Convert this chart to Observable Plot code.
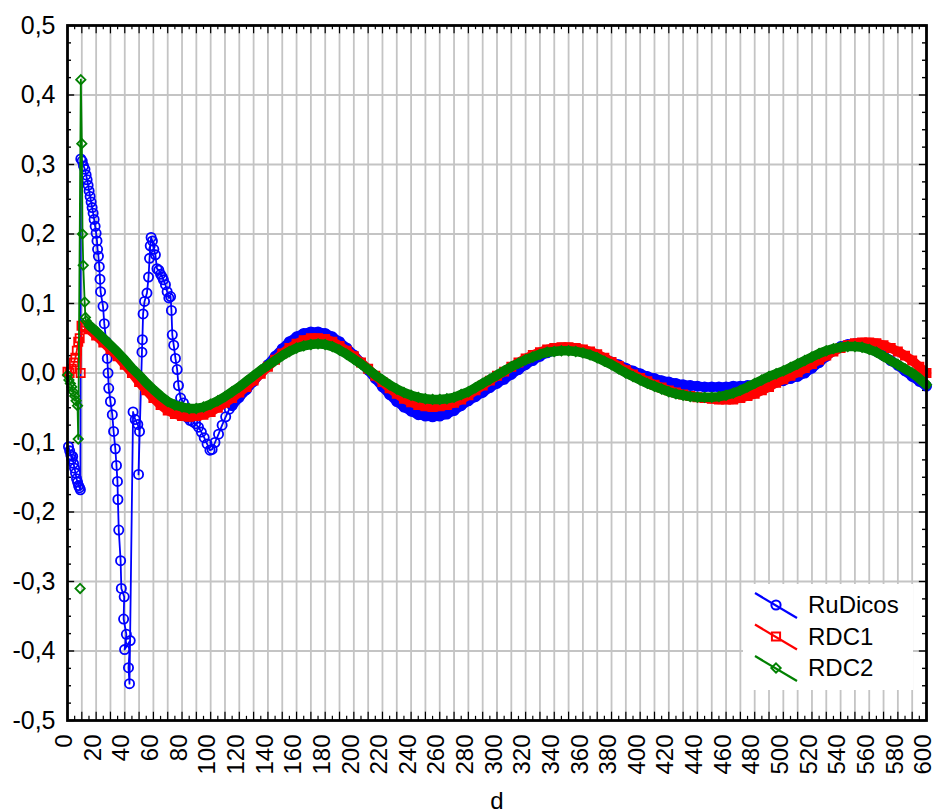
<!DOCTYPE html>
<html><head><meta charset="utf-8">
<script src="https://cdn.jsdelivr.net/npm/d3@7"></script>
<script src="https://cdn.jsdelivr.net/npm/@observablehq/plot@0.6"></script>
<style>body{margin:0;background:#fff}#chart{position:relative;width:936px;height:812px}</style>
</head><body><div id="chart"></div>
<script>
const seriesNames = ["RuDicos", "RDC1", "RDC2"];
const seriesColors = ["#0000ff", "#ff0000", "#008000"];
const xTickLabels = [0,20,40,60,80,100,120,140,160,180,200,220,240,260,280,300,320,340,360,380,400,420,440,460,480,500,520,540,560,580,600];
const yTickLabels = [-0.5,-0.4,-0.3,-0.2,-0.1,0,0.1,0.2,0.3,0.4,0.5];

// d positions of the dense part of the curves
const bandD = [15,20,25,30,35,40,45,50,55,60,
  65,70,75,80,85,90,95,100,105,110,
  115,120,125,130,135,140,145,150,155,160,
  165,170,175,180,185,190,195,200,205,210,
  215,220,225,230,235,240,245,250,255,260,
  265,270,275,280,285,290,295,300,305,310,
  315,320,325,330,335,340,345,350,355,360,
  365,370,375,380,385,390,395,400,405,410,
  415,420,425,430,435,440,445,450,455,460,
  465,470,475,480,485,490,495,500,505,510,
  515,520,525,530,535,540,545,550,555,560,
  565,570,575,580,585,590,595,600];

// RuDicos: irregular first part (d, value)
const ruDicosEarly = [[0.7,-0.106],[1.5,-0.112],[2.3,-0.118],[3,-0.124],[3.6,-0.12],[4.2,-0.13],[4.9,-0.137],[5.6,-0.144],[6.3,-0.152],[7,-0.157],[7.7,-0.162],[8.4,-0.165],[9,-0.168],
  [9.3,0.308],[10.3,0.305],[11.2,0.298],[12.2,0.293],[13,0.285],[13.7,0.278],[14.4,0.27],[15.1,0.262],[15.8,0.254],[16.5,0.246],[17.2,0.238],[17.9,0.23],[18.6,0.221],[19.3,0.211],[20,0.201],[20.6,0.19],[21,0.178],[21.6,0.168],[22.2,0.153],[22.7,0.135],[23.1,0.117],[24.8,0.096],[25.7,0.071],[27,0.045],[27.8,0.021],[28.3,0.0],[28.8,-0.022],[30,-0.041],[31.3,-0.06],[32.2,-0.084],[33.4,-0.109],[34.2,-0.133],[34.9,-0.156],[35.2,-0.182],[35.8,-0.226],[37.1,-0.27],[37.6,-0.31],[39.6,-0.322],[39.2,-0.354],[41.1,-0.376],[39.9,-0.398],[43.8,-0.385],[42.6,-0.424],[43.3,-0.447],
  [45.8,-0.056],[47.3,-0.067],[49.1,-0.074],[50.3,-0.084],[49.6,-0.146],[52,0.03],[52.3,0.048],[52.8,0.085],[53.8,0.103],[55.5,0.115],[56.6,0.138],[57.3,0.165],[57.8,0.183],[58.4,0.195],[59.3,0.19],[60.3,0.178],[61.4,0.17],[62.5,0.15],[63.8,0.148],[65,0.142],[66.2,0.138],[67,0.134],[68.4,0.127],[69.6,0.117],[70.8,0.108],[72,0.11],[72.6,0.09],[73.2,0.055],[74.2,0.04],[75.4,0.021],[76.6,0.005],[77.5,-0.018],[79,-0.036],[81,-0.043],[83.6,-0.064],[85.5,-0.068],[87.5,-0.07],[89.5,-0.073],[91.5,-0.078],[93.5,-0.085],[95.5,-0.093],[97.5,-0.102],[99.5,-0.111],[101,-0.11],[103,-0.1],[105.5,-0.088],[108,-0.075],[110.5,-0.063],[113,-0.052]];
// RuDicos dense part, d = 115..600
const ruDicosBand = [-0.047,-0.035,-0.024,-0.012,0.0,0.012,0.024,0.035,0.045,0.052,
  0.057,0.059,0.059,0.057,0.052,0.045,0.036,0.026,0.015,0.004,
  -0.008,-0.02,-0.031,-0.041,-0.049,-0.055,-0.06,-0.062,-0.063,-0.062,
  -0.059,-0.054,-0.047,-0.04,-0.034,-0.028,-0.021,-0.015,-0.009,-0.002,
  0.005,0.012,0.018,0.024,0.029,0.032,0.034,0.035,0.034,0.032,
  0.029,0.025,0.021,0.016,0.012,0.007,0.003,-0.001,-0.005,-0.008,
  -0.011,-0.013,-0.015,-0.017,-0.018,-0.019,-0.02,-0.02,-0.02,-0.02,
  -0.019,-0.019,-0.018,-0.017,-0.016,-0.015,-0.013,-0.011,-0.008,-0.005,
  0.0,0.007,0.015,0.024,0.032,0.038,0.041,0.042,0.04,0.036,
  0.031,0.025,0.018,0.011,0.003,-0.005,-0.012,-0.019];

// RDC1
const rdc1Early = [[0,0.002],[1.5,0.0],[3,0.006],[4.5,0.015],[5.5,0.022],[6.5,0.032],[7.5,0.045],[8.5,0.05],[9.2,0.0],[9.8,0.068],[11,0.067],[12.5,0.065]];
const rdc1Band = [0.063,0.054,0.044,0.034,0.024,0.012,0.0,-0.013,-0.025,-0.036,
  -0.046,-0.054,-0.059,-0.062,-0.063,-0.062,-0.06,-0.056,-0.05,-0.043,
  -0.036,-0.028,-0.02,-0.011,-0.001,0.009,0.019,0.028,0.036,0.042,
  0.047,0.05,0.05,0.049,0.045,0.039,0.032,0.024,0.015,0.006,
  -0.004,-0.013,-0.022,-0.03,-0.037,-0.042,-0.046,-0.048,-0.049,-0.048,
  -0.046,-0.043,-0.038,-0.032,-0.025,-0.018,-0.011,-0.004,0.002,0.009,
  0.015,0.021,0.026,0.03,0.034,0.036,0.037,0.037,0.036,0.034,
  0.031,0.027,0.022,0.016,0.01,0.004,-0.002,-0.007,-0.012,-0.017,
  -0.021,-0.025,-0.028,-0.031,-0.033,-0.035,-0.036,-0.037,-0.038,-0.038,
  -0.038,-0.036,-0.033,-0.03,-0.025,-0.02,-0.014,-0.009,-0.004,0.001,
  0.007,0.013,0.019,0.025,0.031,0.036,0.04,0.043,0.044,0.044,
  0.043,0.04,0.036,0.031,0.025,0.018,0.009,0.0];

// RDC2
const rdc2Early = [[0,-0.003],[1,-0.01],[2,-0.015],[3,-0.02],[4,-0.027],[5,-0.033],[6,-0.04],[7,-0.047],[7.5,-0.095],[9.3,0.422],[10,0.33],[10.5,0.2],[11,0.155],[12,0.102],[12.5,0.08],[13,0.075]];
const rdc2Outlier = [[8.8,-0.31]];
const rdc2Band = [0.069,0.06,0.05,0.04,0.03,0.019,0.007,-0.003,-0.014,-0.024,
  -0.033,-0.041,-0.046,-0.049,-0.051,-0.051,-0.049,-0.045,-0.04,-0.034,
  -0.027,-0.02,-0.012,-0.004,0.004,0.011,0.018,0.025,0.031,0.036,
  0.039,0.041,0.042,0.041,0.038,0.033,0.027,0.02,0.013,0.005,
  -0.003,-0.01,-0.017,-0.023,-0.028,-0.032,-0.035,-0.037,-0.038,-0.038,
  -0.037,-0.035,-0.031,-0.027,-0.021,-0.015,-0.009,-0.003,0.003,0.009,
  0.014,0.019,0.023,0.027,0.03,0.031,0.032,0.032,0.031,0.029,
  0.026,0.022,0.017,0.012,0.006,0.0,-0.005,-0.01,-0.015,-0.019,
  -0.023,-0.027,-0.03,-0.032,-0.034,-0.035,-0.035,-0.035,-0.034,-0.032,
  -0.029,-0.025,-0.02,-0.015,-0.01,-0.005,-0.001,0.003,0.008,0.013,
  0.018,0.023,0.028,0.032,0.035,0.037,0.038,0.038,0.037,0.034,
  0.03,0.024,0.018,0.012,0.006,0.0,-0.008,-0.017];

const toRec = ([d, v]) => ({d, v});
const blueBand = bandD.slice(20).map((d, i) => ({d, v: ruDicosBand[i]}));
const redBand = bandD.map((d, i) => ({d, v: rdc1Band[i]}));
const greenBand = bandD.map((d, i) => ({d, v: rdc2Band[i]}));
const blueAll = ruDicosEarly.map(toRec).concat(blueBand);
const redAll = rdc1Early.map(toRec).concat(redBand);
const greenAll = rdc2Early.map(toRec).concat(greenBand);
const greenOut = rdc2Outlier.map(toRec);

const gridX = d3.range(10, 600, 10);
const gridY = d3.range(-4, 5).map(i => i / 10);
const xMinor = d3.range(0, 121).map(i => i * 5);
const yMinor = d3.range(-20, 21).map(i => i * 0.025);
const isMajX = d => Math.abs(d % 10) < 1e-9;
const isMajY = d => Math.abs(Math.round(d * 10) - d * 10) < 1e-9;

const fmtY = d => d3.format(".1f")(d).replace(".", ",").replace("\u2212", "-");

const [cB, cR, cG] = seriesColors;
const pt = {x: "d", y: "v"};
const FONT = "'Liberation Sans', Arial, sans-serif";

const chart = Plot.plot({
  width: 936, height: 812,
  marginLeft: 67, marginRight: 10, marginTop: 25, marginBottom: 92,
  x: {domain: [0, 600]},
  y: {domain: [-0.5, 0.5]},
  style: {fontFamily: FONT, fontSize: "24px", color: "#000", background: "#fff"},
  marks: [
    Plot.ruleX(gridX, {stroke: "#c4c4c4", strokeWidth: 1.8}),
    Plot.ruleY(gridY, {stroke: "#c4c4c4", strokeWidth: 1.8}),
    // inward ticks
    Plot.ruleX(xMinor, {x: d => d, y1: -0.5, y2: d => -0.5 + (isMajX(d) ? 0.012 : 0.006), stroke: "#000", strokeWidth: 1.2}),
    Plot.ruleX(xMinor, {x: d => d, y1: 0.5, y2: d => 0.5 - (isMajX(d) ? 0.012 : 0.006), stroke: "#000", strokeWidth: 1.2}),
    Plot.ruleY(yMinor, {y: d => d, x1: 0, x2: d => (isMajY(d) ? 5 : 2.8), stroke: "#000", strokeWidth: 1.4}),
    Plot.ruleY(yMinor, {y: d => d, x1: 600, x2: d => 600 - (isMajY(d) ? 5 : 2.8), stroke: "#000", strokeWidth: 1.4}),
    // RuDicos
    Plot.line(blueBand, {...pt, stroke: cB, strokeWidth: 9.5}),
    Plot.line(blueAll, {...pt, stroke: cB, strokeWidth: 1.8}),
    Plot.dot(blueAll, {...pt, symbol: "circle", r: 4.6, stroke: cB, strokeWidth: 1.8, fill: "none"}),
    // RDC1
    Plot.line(redBand, {...pt, stroke: cR, strokeWidth: 9.5}),
    Plot.line(redAll, {...pt, stroke: cR, strokeWidth: 1.8}),
    Plot.dot(redAll, {...pt, symbol: "square", r: 4.6, stroke: cR, strokeWidth: 1.8, fill: "none"}),
    // RDC2
    Plot.line(greenBand, {...pt, stroke: cG, strokeWidth: 9.5}),
    Plot.line(greenAll, {...pt, stroke: cG, strokeWidth: 1.8}),
    Plot.dot(greenAll, {...pt, symbol: "diamond2", r: 4.2, stroke: cG, strokeWidth: 1.8, fill: "none"}),
    Plot.dot(greenOut, {...pt, symbol: "diamond2", r: 4.2, stroke: cG, strokeWidth: 1.8, fill: "none"}),
    Plot.axisX({ticks: xTickLabels, tickFormat: d => String(d), tickRotate: -90, tickSize: 0, tickPadding: 14, fontSize: 24, dx: -3, label: null}),
    Plot.axisX({ticks: [], tickSize: 0, label: "d", labelAnchor: "center", labelArrow: "none", labelOffset: 88}),
    Plot.axisY({ticks: yTickLabels, tickFormat: fmtY, tickSize: 0, tickPadding: 12, fontSize: 25, label: null}),
    Plot.frame({stroke: "#000", strokeWidth: 2.8})
  ]
});
document.getElementById("chart").appendChild(chart);

// legend inside the plot area
const svg = d3.select(chart);
const lg = svg.append("g").attr("font-family", FONT).attr("font-size", 24).attr("text-anchor", "start");
lg.append("rect").attr("x", 743).attr("y", 584).attr("width", 170).attr("height", 106).attr("fill", "#fff");
const sym = [d3.symbolCircle, d3.symbolSquare, d3.symbolDiamond2];
const symSize = [Math.PI * 4.6 * 4.6, Math.PI * 4.6 * 4.6, Math.PI * 4.2 * 4.2];
seriesNames.forEach((name, i) => {
  const cy = 605 + i * 31.5;
  lg.append("line").attr("x1", 755).attr("y1", cy - 12).attr("x2", 797).attr("y2", cy + 13)
    .attr("stroke", seriesColors[i]).attr("stroke-width", 2.2);
  lg.append("path").attr("d", d3.symbol(sym[i], symSize[i])()).attr("transform", `translate(776,${cy})`)
    .attr("fill", "none").attr("stroke", seriesColors[i]).attr("stroke-width", 2);
  lg.append("text").attr("x", 808).attr("y", cy).attr("dy", "0.35em").attr("fill", "#000").attr("text-anchor", "start").text(name);
});
</script>
</body></html>
